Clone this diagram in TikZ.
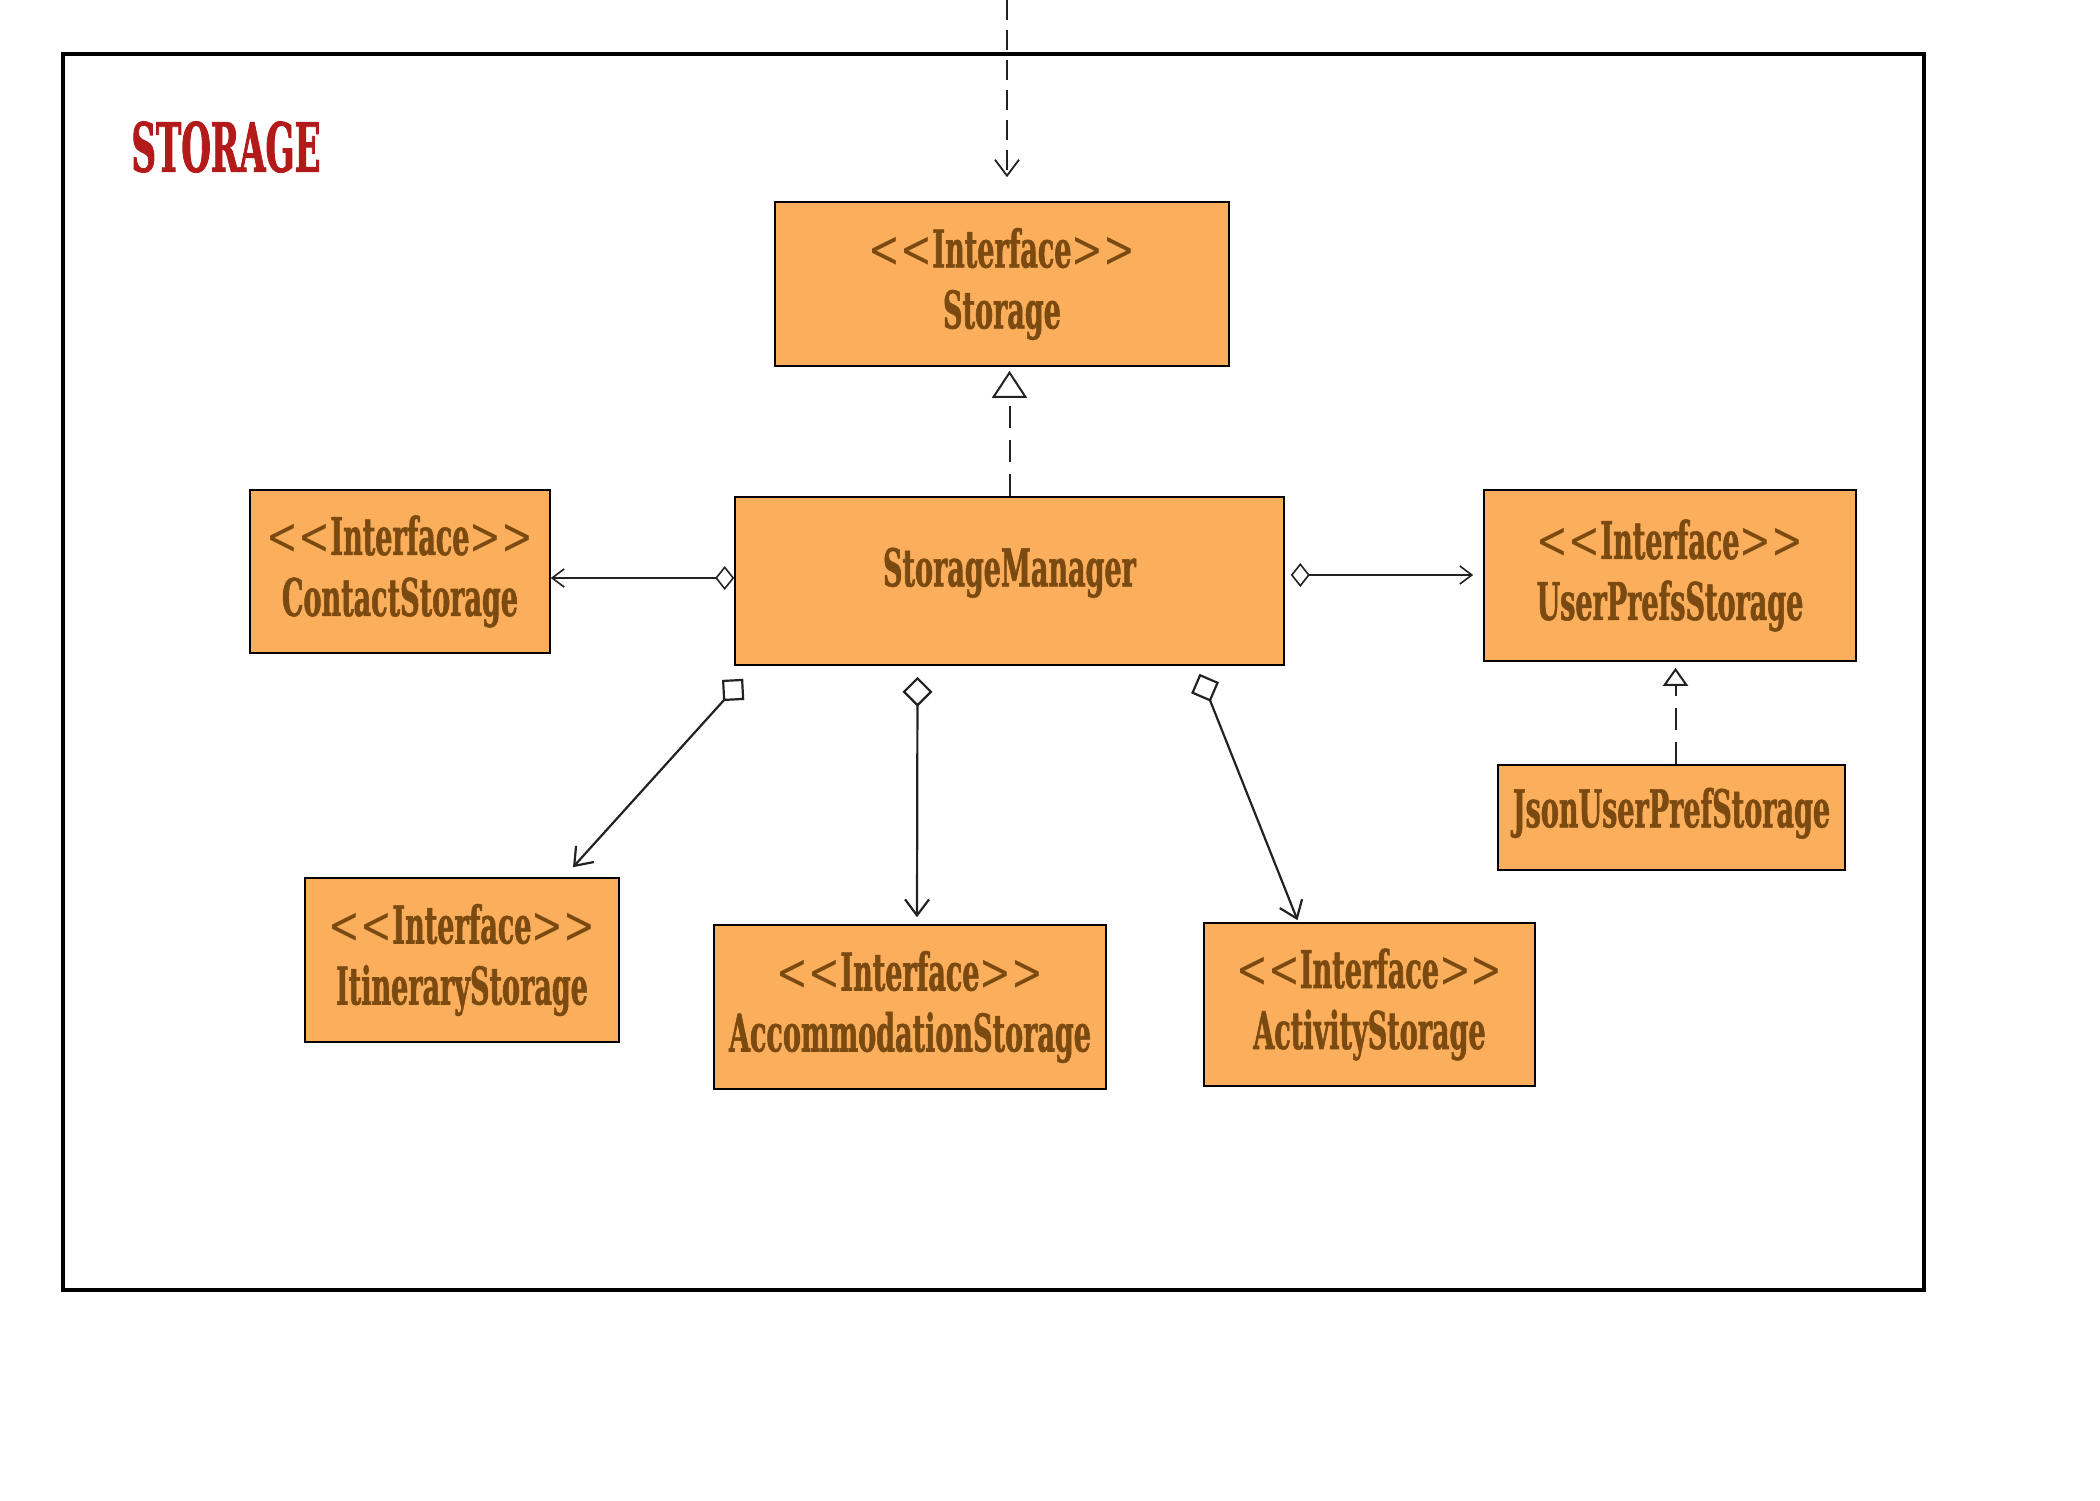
\documentclass[tikz,border=0pt]{standalone}
\usepackage{fontspec}
\usetikzlibrary{arrows.meta,calc}
\newfontfamily\slab{DejaVu Serif}[FakeStretch=0.52,FakeBold=1]
\newfontfamily\slabt{DejaVu Serif}[FakeStretch=0.5,FakeBold=1.2]
\newfontfamily\brk{DejaVu Serif}[FakeStretch=0.73]
\newcommand{\iface}{{\brk\mdseries<<}Interface{\brk\mdseries>>}}
\definecolor{boxfill}{HTML}{FBAE5C}
\definecolor{boxtext}{HTML}{7A4A11}
\definecolor{titlered}{HTML}{B31B1B}
\definecolor{linec}{HTML}{222222}
\tikzset{
  umlbox/.style={draw=black, line width=0.8pt, fill=boxfill, text=boxtext,
    align=center, inner sep=0pt,
    font=\slab\bfseries\fontsize{26}{30.5}\selectfont},
  aggbig/.style={draw=linec, line width=1.1pt,
    arrows={Diamond[open,length=15pt,width=15pt,line width=1.1pt]-Straight Barb[length=8pt,width=12pt,line width=1.1pt]}},
  aggsmall/.style={draw=linec, line width=0.8pt,
    arrows={Diamond[open,length=9.5pt,width=12pt,line width=0.8pt]-Straight Barb[length=6pt,width=9pt,line width=0.8pt]}},
  realize/.style={draw=linec, line width=1pt, dash pattern=on 11pt off 6pt},
  depend/.style={draw=linec, line width=0.9pt, dash pattern=on 10pt off 5pt,
    -{Straight Barb[length=8pt,width=12pt,line width=0.9pt]}}
}
\begin{document}
\begin{tikzpicture}[x=0.5pt,y=-0.5pt]
\useasboundingbox (0,0) rectangle (2100,1500);
% frame
\draw[line width=2pt] (63,54) rectangle (1924,1290);
\node[text=titlered, inner sep=0pt, font=\slabt\bfseries\fontsize{34}{40}\selectfont] (title) at (226,147) {STORAGE};
% boxes
\node[umlbox, minimum width=227pt, minimum height=82pt] (st) at (1002,284) {\iface\\Storage};
\node[umlbox, minimum width=274.5pt, minimum height=84pt, text depth=14pt] (sm) at (1009.5,581) {StorageManager};
\node[umlbox, minimum width=150pt, minimum height=81.5pt] (cs) at (400,571.5) {\iface\\ContactStorage};
\node[umlbox, minimum width=186pt, minimum height=85.5pt] (up) at (1670,575.5) {\iface\\UserPrefsStorage};
\node[umlbox, minimum width=173.5pt, minimum height=52.5pt, text depth=10pt] (js) at (1671.5,817.5) {JsonUserPrefStorage};
\node[umlbox, minimum width=157pt, minimum height=82pt] (it) at (462,960) {\iface\\ItineraryStorage};
\node[umlbox, minimum width=196pt, minimum height=82pt] (ac) at (910,1007) {\iface\\AccommodationStorage};
\node[umlbox, minimum width=165.5pt, minimum height=81.5pt] (av) at (1369.5,1004.5) {\iface\\ActivityStorage};
% incoming dependency
\coordinate (topin) at (1007,0);
\draw[depend] (topin) -- ($(st.north)+(5,-24)$);
% realizations
\draw[realize, -{Triangle[open,length=13.5pt,width=17.5pt,line width=1pt]}, shorten >=2pt] (sm.north) -- (sm.north |- st.south);
\draw[realize, -{Triangle[open,length=9pt,width=12.5pt,line width=1pt]}, shorten >=3pt] ($(js.north)+(4,0)$) -- ($(js.north |- up.south)+(4,0)$);
% aggregations
\draw[aggsmall] ($(sm.west)+(0,-3)$) -- ($(sm.west -| cs.east)+(0,-3)$);
\draw[aggsmall, shorten >=5pt, shorten <=3pt] ($(sm.east)+(0,-6)$) -- ($(sm.east -| up.west)+(0,-6)$);
\draw[aggbig] ($(sm.south west)+(9,13)$) -- ($(it.north)+(111,-10)$);
\draw[aggbig] ($(sm.south)+(-92,11)$) -- ($(ac.north)+(7,-7)$);
\draw[aggbig] ($(sm.south)+(190,8)$) -- ($(av.north)+(-72,-2)$);
\end{tikzpicture}
\end{document}
